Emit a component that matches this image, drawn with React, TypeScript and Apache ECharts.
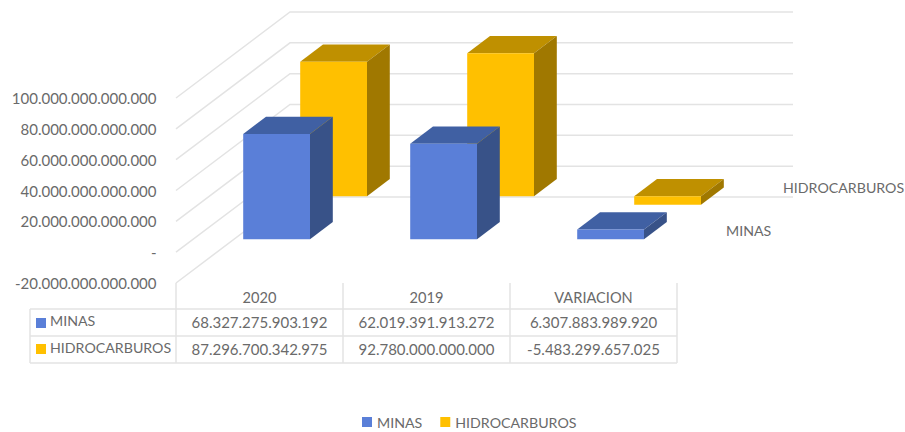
import React, { useEffect, useRef } from "react";
import * as echarts from "echarts";

const categories = ["2020", "2019", "VARIACION"];
const minasValues = [68327275903192, 62019391913272, 6307883989920];
const hidroValues = [87296700342975, 92780000000000, -5483299657025];
const yTicks = [-20e12, 0, 20e12, 40e12, 60e12, 80e12, 100e12];
const seriesNames = ["MINAS", "HIDROCARBUROS"];

const FONT = "Lato";
const TEXT = "#6a6a6a";
const LINE = "#e3e3e3";
const DEPTH_X = 114;
const DEPTH_Y = -86;
const GRID = { left: 176, top: 98, width: 501, height: 185 };
const BACK_RIGHT = 793;

const fmt = (v: number) => {
  if (v === 0) return "-";
  const s = Math.abs(v).toFixed(0).replace(/\B(?=(\d{3})+(?!\d))/g, ".");
  return (v < 0 ? "-" : "") + s;
};

const makeBarRenderer = (row: number, front: string, top: string, side: string) => (params: any, api: any) => {
  const band = api.size([1, 0])[0];
  const w = band * 0.4;
  const depth = 0.2;
  const c0 = api.coord([api.value(0), 0]);
  const c1 = api.coord([api.value(0), api.value(1)]);
  const sx = DEPTH_X * row;
  const sy = DEPTH_Y * row;
  const dx = DEPTH_X * depth;
  const dy = DEPTH_Y * depth;
  const l = c0[0] - w / 2 + sx;
  const r = l + w;
  const yTop = Math.min(c0[1], c1[1]) + sy;
  const yBot = Math.max(c0[1], c1[1]) + sy;
  const poly = (points: number[][], fill: string) => ({ type: "polygon", shape: { points }, style: { fill } });
  return {
    type: "group",
    children: [
      poly([[l, yTop], [r, yTop], [r + dx, yTop + dy], [l + dx, yTop + dy]], top),
      poly([[r, yTop], [r + dx, yTop + dy], [r + dx, yBot + dy], [r, yBot]], side),
      poly([[l, yTop], [r, yTop], [r, yBot], [l, yBot]], front),
    ],
  };
};

const renderGridLine = (params: any, api: any) => {
  const p = api.coord([0, api.value(1)]);
  const x0 = params.coordSys.x;
  return {
    type: "polyline",
    shape: { points: [[x0, p[1]], [x0 + DEPTH_X, p[1] + DEPTH_Y], [BACK_RIGHT, p[1] + DEPTH_Y]] },
    style: { stroke: LINE, lineWidth: 1.5, fill: "none" },
    silent: true,
  };
};

const App = () => {
  const ref = useRef<HTMLDivElement>(null);
  useEffect(() => {
    const chart = echarts.init(ref.current!, null, { renderer: "svg" });
    const colX = [176, 343, 510, 677];
    const rowY = [309, 336, 363];
    const hLine = (y: number, x1: number, x2: number) => ({
      type: "line", shape: { x1, y1: y, x2, y2: y }, style: { stroke: LINE, lineWidth: 1.5 }, silent: true,
    });
    const vLine = (x: number, y1: number, y2: number) => ({
      type: "line", shape: { x1: x, y1, x2: x, y2 }, style: { stroke: LINE, lineWidth: 1.5 }, silent: true,
    });
    const txt = (text: string, x: number, y: number, align = "center", fontSize = 15) => ({
      type: "text", x, y, silent: true,
      style: { text, fontFamily: FONT, fontSize, fill: TEXT, textAlign: align, textVerticalAlign: "middle" },
    });
    const swatch = (x: number, y: number, fill: string) => ({
      type: "rect", shape: { x, y, width: 10, height: 10 }, style: { fill }, silent: true,
    });
    const tableRows = [minasValues, hidroValues];
    const graphic: any[] = [
      ...colX.map((x) => vLine(x, 283, 363)),
      vLine(30, 309, 363),
      ...rowY.map((y) => hLine(y, 30, 677)),
      swatch(36, 318, "#5a7fd8"),
      swatch(36, 344, "#ffc000"),
      txt(seriesNames[0], 50, 320, "left", 14.2),
      txt(seriesNames[1], 50, 347, "left", 14.2),
      ...tableRows.flatMap((vals, r) =>
        vals.map((v, c) => txt(fmt(v), (colX[c] + colX[c + 1]) / 2, 322 + r * 27))
      ),
      txt(seriesNames[1], 783, 187, "left", 14.2),
      txt(seriesNames[0], 726, 230, "left", 14.2),
    ];
    chart.setOption({
      animation: false,
      backgroundColor: "#ffffff",
      grid: { ...GRID, containLabel: false },
      legend: {
        data: seriesNames,
        left: 362,
        top: 415,
        itemWidth: 10,
        itemHeight: 10,
        itemGap: 18,
        icon: "rect",
        padding: 0,
        textStyle: { fontFamily: FONT, fontSize: 14.2, color: TEXT, padding: [0, 0, 0, 0] },
      },
      xAxis: {
        type: "category",
        data: categories,
        axisLine: { show: false, onZero: false },
        axisTick: { show: false },
        axisLabel: { fontFamily: FONT, fontSize: 14.6, color: TEXT, margin: 7 },
      },
      yAxis: {
        type: "value",
        min: -20e12,
        max: 100e12,
        interval: 20e12,
        axisLine: { show: false },
        axisTick: { show: false },
        splitLine: { show: false },
        axisLabel: { fontFamily: FONT, fontSize: 15, color: TEXT, margin: 19.5, formatter: (v: number) => fmt(v) },
      },
      graphic,
      series: [
        {
          type: "custom",
          name: "grid",
          renderItem: renderGridLine,
          data: yTicks.map((v) => [0, v]),
          encode: { x: 0, y: 1 },
          silent: true,
          z: 1,
        },
        {
          type: "custom",
          name: seriesNames[1],
          renderItem: makeBarRenderer(0.65, "#ffc000", "#bf9000", "#a07800"),
          data: hidroValues.map((v, i) => [i, v]),
          encode: { x: 0, y: 1 },
          itemStyle: { color: "#ffc000" },
          z: 2,
        },
        {
          type: "custom",
          name: seriesNames[0],
          renderItem: makeBarRenderer(0.15, "#5a7fd8", "#4060a3", "#385288"),
          data: minasValues.map((v, i) => [i, v]),
          encode: { x: 0, y: 1 },
          itemStyle: { color: "#5a7fd8" },
          z: 3,
        },
      ],
    });
    return () => chart.dispose();
  }, []);
  return <div ref={ref} style={{ position: "absolute", left: 0, top: 0, width: 905, height: 432 }} />;
};

export default App;
